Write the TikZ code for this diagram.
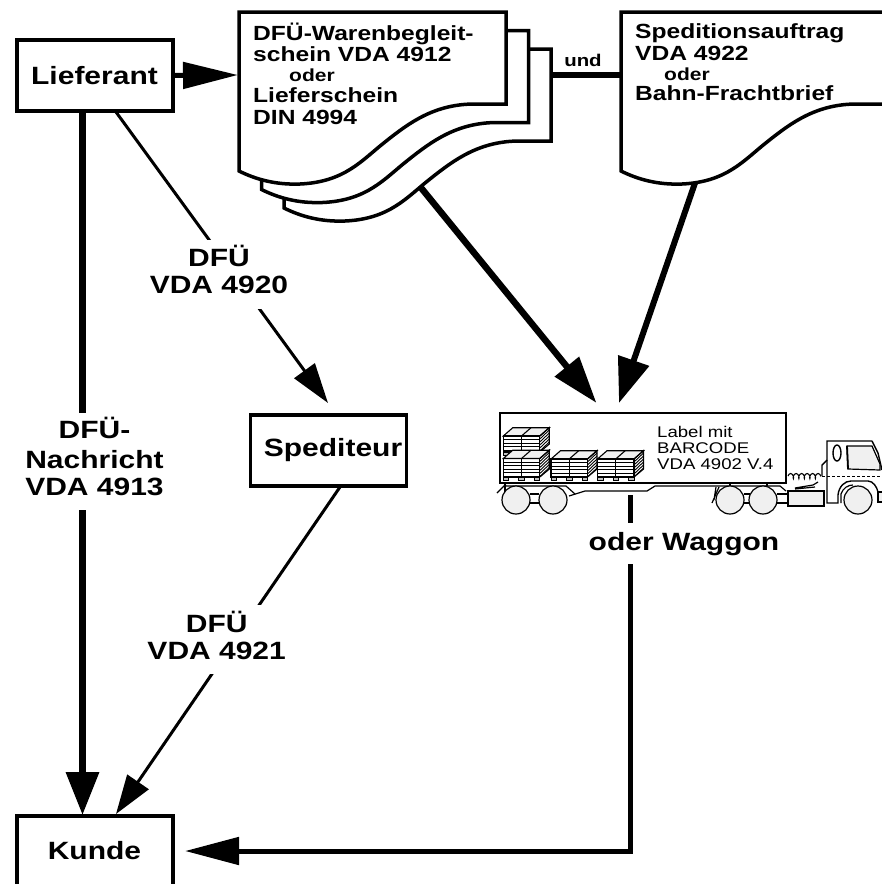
\documentclass[tikz,border=0pt]{standalone}
\usepackage{fontspec}
\setmainfont{Liberation Sans}[FakeStretch=1.2]
\usetikzlibrary{arrows.meta,decorations.pathmorphing}
\definecolor{lg}{gray}{0.94}
\newcommand{\fs}[1]{\fontsize{#1}{#1}\selectfont}
\newcommand{\docpath}{(239,12) -- (506,12) -- (506,104) -- (475,104) .. controls (435,104) and (410,122) .. (385,142) .. controls (362,160) and (345,182) .. (300,184) .. controls (275,185) and (255,179) .. (239,171) -- cycle}
% stack of pallets: #1 left x, #2 front top y, #3 front bottom y
\newcommand{\palstack}[3]{%
  \fill[white] (#1,#2) -- ++(9.5,-8.3) -- ++(36.5,0) -- (#1+46,#3-8) -- (#1+36.5,#3) -- (#1,#3) -- cycle;
  \foreach \yy in {3.6,7.2,...,30}{\pgfmathsetmacro{\py}{#2+\yy}\ifdim\py pt<#3pt\relax
     \draw[line width=1pt] (#1,\py) -- (#1+36.5,\py);\fi}
  \begin{scope}
    \clip (#1+36.5,#2) -- ++(9.5,-8.3) -- (#1+46,#3-8) -- (#1+36.5,#3) -- cycle;
    \foreach \yy in {-12,-9,...,30}{\draw[line width=.9pt] (#1+36.5,#2+\yy+9) -- (#1+46,#2+\yy);}
  \end{scope}
  \draw[line width=1.1pt,fill=lg] (#1,#2) -- ++(9.5,-8.3) -- ++(36.5,0) -- ++(-9.5,8.3) -- cycle;
  \draw[line width=1.1pt] (#1+18.2,#2) -- ++(9.5,-8.3);
  \draw[line width=1.2pt] (#1,#2) rectangle (#1+36.5,#3) (#1+18.2,#2) -- (#1+18.2,#3);
  \draw[line width=1.2pt] (#1+36.5,#2) -- ++(9.5,-8.3) -- (#1+46,#3-8) -- (#1+36.5,#3);
  \foreach \ff in {0,15.5,31}{\draw[line width=1pt,fill=lg!60!gray] (#1+\ff,#3) rectangle ++(5.5,3.2);}
}
\tikzset{
  lab/.style={font=\bfseries\fs{25},align=center,inner sep=0pt},
  gapn/.style={fill=white,inner sep=0pt},
  boxn/.style={draw,line width=4pt,minimum width=156pt,minimum height=71pt,inner sep=0pt,font=\bfseries\fs{25},fill=white},
  doc/.style={draw,line width=3.5pt,fill=white,line join=miter},
  wheel/.style={draw,line width=1.2pt,fill=lg},
  trk/.style={line width=1.2pt}
}
\begin{document}
\begin{tikzpicture}[x=1pt,y=-1pt]
\useasboundingbox (0,0) rectangle (882,884);
\clip (0,0) rectangle (882,884);
% documents
\draw[doc,shift={(45,37)}] \docpath;
\draw[doc,shift={(22.5,18.5)}] \docpath;
\draw[doc] \docpath;
\draw[doc,shift={(382,0)}] \docpath;
\coordinate (doca) at (238,75);
\coordinate (docb) at (551,75);
\coordinate (docc) at (621,75);
\coordinate (docd) at (420,186.5);
\coordinate (doce) at (695,183);
\node[anchor=base west,inner sep=0pt,font=\bfseries\fs{20.5},align=left] (tdoca) at (253,124) {DFÜ-Warenbegleit-\\[1pt]schein VDA 4912\\[-1pt]\hspace*{36pt}{\fs{17.5}oder}\\[.5pt]Lieferschein\\[1.5pt]DIN 4994};
\node[anchor=base west,inner sep=0pt,font=\bfseries\fs{20.5},align=left] (tdocb) at (635,100) {Speditionsauftrag\\[1pt]VDA 4922\\[-.5pt]\hspace*{29pt}{\fs{17.5}oder}\\[-.5pt]Bahn-Frachtbrief};
% boxes
\node[boxn] (lief) at (94.5,75.5) {Lieferant};
\node[boxn,line width=3.5pt] (sped) at (328.5,450.5) {\hspace*{9pt}Spediteur};
\node[boxn] (kunde) at (94.5,851) {Kunde};
% truck
\node[draw,line width=2pt,fill=white,minimum width=286pt,minimum height=70pt,inner sep=0pt] (truck) at (642.5,448) {};
\node[anchor=base west,inner sep=0pt,font=\fs{15.5},align=left] (tlabel) at (657,469) {Label mit\\[.5pt]BARCODE\\[.5pt]VDA 4902 V.4};
\palstack{503.3}{436}{452}
\palstack{503.3}{458.5}{477}
\palstack{551}{459}{477}
\palstack{597.5}{459}{477}
\draw[trk] (504,483) -- (506,486) -- (566,486) -- (575,494);
\draw[trk] (505,485) -- (497,493);
\draw[trk] (505,484) -- (505,496);
\draw[trk] (569,496) -- (585,491) -- (647,491) -- (655,486) -- (780,486) -- (786,491);
\draw[trk] (530,494) -- (539,494) (530,503) -- (539,503);
\draw[trk] (744,494) -- (750,494) (744,503) -- (750,503);
\draw[trk] (777,494) -- (800,494) (777,503) -- (800,503);
\draw[trk] (719,487) -- (712,503) (716,487) -- (714,500);
\draw[trk] (730,483) -- (730,486) (767,483) -- (767,486);
\foreach \nn/\xx in {wa/516,wb/553,wc/730,wd/763,we/858}{\node[wheel,circle,minimum size=28pt,inner sep=0pt] (\nn) at (\xx,500) {};}
\draw[line width=1.2pt,fill=lg] (788,491) rectangle (824,506);
\draw[line width=1.4pt] (872,441) -- (827,441) -- (827,503) -- (838,503) -- (838,495) .. controls (839,486) and (845,481) .. (851,481) -- (868,481) .. controls (873,481) and (877,487) .. (878,492) (872,441) -- (878,453) -- (882,470);
\draw[trk] (841,503) -- (841,494) .. controls (843,488) and (848,485) .. (853,485);
\draw[trk,fill=lg] (882,492) -- (878,492) -- (878,502) -- (882,502);
\draw[line width=1.4pt] (827,460) -- (822,465) -- (822,476);
\draw[line width=1.4pt] (837,453) ellipse [x radius=4,y radius=8];
\draw[line width=1.2pt,fill=lg] (847,446) -- (872,446) -- (880,464) -- (880,470) -- (848,469) -- cycle;
\draw[line width=1.8pt] (847,446) -- (848,469);
\draw[line width=.9pt,densely dashed] (822,476) -- (882,476);
\draw[line width=1.1pt,decorate,decoration={coil,segment length=5.5pt,amplitude=2.5pt}] (788,476) -- (821,476);
\draw[trk] (795,488) -- (813,485) -- (818,482) (795,489) -- (815,487);
% connectors
\draw[line width=5pt,-{Triangle[length=55pt,width=26pt]}] (lief.east) -- (doca);
\draw[line width=5.5pt] (docb) -- (docc);
\node[font=\bfseries\fs{17},inner sep=0pt,anchor=base] (undl) at (583,66) {und};
\coordinate (liefa) at (82.5,110);
\coordinate (liefb) at (116,112);
\coordinate (kundea) at (82.5,815);
\coordinate (kundeb) at (116,814);
\coordinate (spedt) at (328,403);
\coordinate (spedb) at (340,487);
\draw[line width=6.5pt,-{Triangle[length=43pt,width=32pt]}] (liefa) -- (kundea);
\draw[line width=3pt,-{Triangle[length=40pt,width=25pt]}] (liefb) -- (spedt);
\draw[line width=3pt,-{Triangle[length=39pt,width=25.5pt]}] (spedb) -- (kundeb);
\coordinate (trka) at (596.5,403);
\coordinate (trkb) at (619,403);
\draw[line width=6.5pt,-{Triangle[length=47pt,width=30pt]}] (docd) -- (trka);
\draw[line width=6pt,-{Triangle[length=45pt,width=31.5pt]}] (doce) -- (trkb);
\coordinate (trkc) at (630,495);
\coordinate (kundec) at (185,851);
\draw[line width=5pt,-{Triangle[length=54pt,width=27pt]}] (trkc) -- (630,851) -- (kundec);
% labels with their gaps in the connectors
\node[gapn,minimum width=150pt,minimum height=97pt] (gapa) at (94.5,461.5) {};
\node[lab,anchor=base] (laba) at (94.5,495) {DFÜ-\\[5pt]Nachricht\\[2pt]VDA 4913};
\node[gapn,minimum width=142pt,minimum height=69pt] (gapb) at (219,274.5) {};
\node[lab,anchor=base] (labb) at (219,293) {DFÜ\\[2pt]VDA 4920};
\node[gapn,minimum width=142pt,minimum height=69pt] (gapc) at (216.7,639.5) {};
\node[lab,anchor=base] (labc) at (216.7,659) {DFÜ\\[2pt]VDA 4921};
\node[gapn,minimum width=200pt,minimum height=41pt] (gapd) at (684,543.5) {};
\node[lab,anchor=base] (labd) at (684,550) {oder Waggon};
\end{tikzpicture}
\end{document}
